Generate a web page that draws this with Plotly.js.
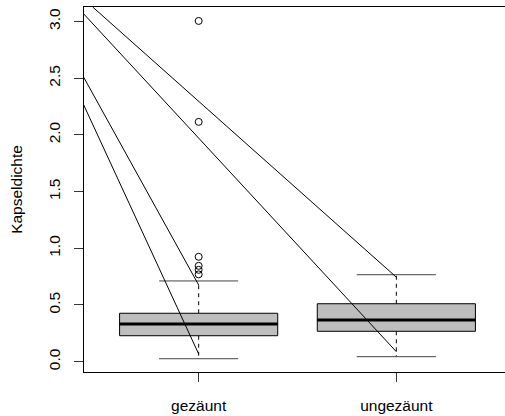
<!DOCTYPE html>
<html>
<head>
<meta charset="utf-8">
<script src="https://cdn.plot.ly/plotly-3.0.1.min.js"></script>
<style>
html, body { margin:0; padding:0; overflow:hidden; background:#fff; }
#chart { width:520px; height:416px; }
</style>
</head>
<body>
<div id="chart"></div>
<script>
// ---- data ----
const categories = ["gezäunt", "ungezäunt"];
const positions = [1, 2];
const lowerWhisker = [0.026, 0.044];
const q1 = [0.229, 0.268];
const median = [0.332, 0.368];
const q3 = [0.427, 0.511];
const upperWhisker = [0.712, 0.767];
const outlierGroup = [1, 1, 1, 1, 1, 1];
const outlierValues = [3.005, 2.115, 0.925, 0.845, 0.81, 0.77];
// straight reference lines (start x, start y, end x, end y)
const lineX0 = [0.464, 0.417, 0.417, 0.417];
const lineY0 = [3.128, 3.07, 2.513, 2.27];
const lineX1 = [2.0, 2.0, 1.0, 1.0];
const lineY1 = [0.745, 0.088, 0.676, 0.068];
const yTicks = [0, 0.5, 1, 1.5, 2, 2.5, 3];
const yTickText = ["0.0", "0.5", "1.0", "1.5", "2.0", "2.5", "3.0"];

const BOXHW = 0.4, CAPHW = 0.2;
const traces = [];
positions.forEach((p, i) => {
  // whiskers (dashed)
  traces.push({x:[p,p], y:[q3[i], upperWhisker[i]], mode:'lines', line:{color:'#000', width:1, dash:'4px,4px'}, hoverinfo:'skip'});
  traces.push({x:[p,p], y:[q1[i], lowerWhisker[i]], mode:'lines', line:{color:'#000', width:1, dash:'4px,4px'}, hoverinfo:'skip'});
  // caps
  traces.push({x:[p-CAPHW, p+CAPHW], y:[upperWhisker[i], upperWhisker[i]], mode:'lines', line:{color:'#444', width:1}, hoverinfo:'skip'});
  traces.push({x:[p-CAPHW, p+CAPHW], y:[lowerWhisker[i], lowerWhisker[i]], mode:'lines', line:{color:'#444', width:1}, hoverinfo:'skip'});
  // box
  traces.push({x:[p-BOXHW, p+BOXHW, p+BOXHW, p-BOXHW, p-BOXHW], y:[q1[i], q1[i], q3[i], q3[i], q1[i]],
    mode:'lines', fill:'toself', fillcolor:'#bebebe', line:{color:'#000', width:1}, hoverinfo:'skip'});
  // median
  traces.push({x:[p-BOXHW, p+BOXHW], y:[median[i], median[i]], mode:'lines', line:{color:'#000', width:3}, hoverinfo:'skip'});
});
// outliers
traces.push({x:outlierGroup, y:outlierValues, mode:'markers',
  marker:{symbol:'circle-open', size:7, color:'#000', line:{width:1, color:'#000'}}, hoverinfo:'skip'});
// straight lines
lineX0.forEach((x0, i) => {
  traces.push({x:[x0, lineX1[i]], y:[lineY0[i], lineY1[i]], mode:'lines', line:{color:'#000', width:1}, hoverinfo:'skip'});
});

const font = {family:'"Liberation Sans", Arial, sans-serif', size:15.5, color:'#000'};
const layout = {
  width:520, height:416,
  margin:{l:84, r:9, t:7, b:44},
  paper_bgcolor:'#fff', plot_bgcolor:'#fff',
  showlegend:false,
  font: font,
  xaxis:{range:[0.42, 2.58], tickvals:positions, ticktext:categories, ticks:'outside', ticklen:9, tickcolor:'#333',
    showgrid:false, zeroline:false, showline:true, mirror:true, linecolor:'#000', linewidth:1, tickfont:font, ticklabelstandoff:10},
  yaxis:{range:[-0.091, 3.128], tickvals:yTicks, ticktext:yTickText, ticks:'outside', ticklen:9, tickcolor:'#333',
    tickangle:-90, showgrid:false, zeroline:false, showline:true, mirror:true, linecolor:'#000', linewidth:1, tickfont:font,
    ticklabelstandoff:8, title:{text:'Kapseldichte', font:font, standoff:19}}
};
Plotly.newPlot('chart', traces, layout, {staticPlot:true, displayModeBar:false});
</script>
</body>
</html>
